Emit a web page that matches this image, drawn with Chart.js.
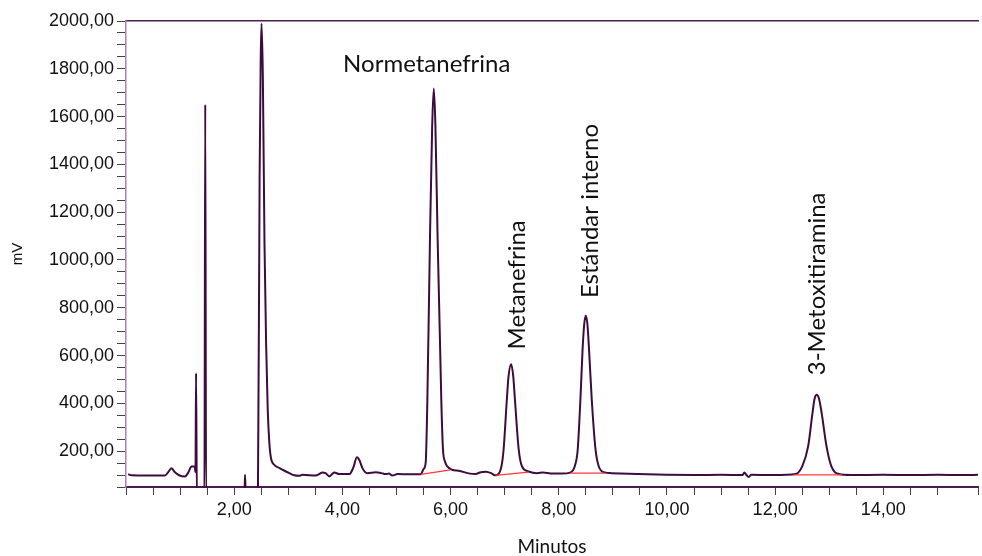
<!DOCTYPE html>
<html>
<head>
<meta charset="utf-8">
<script src="https://cdn.jsdelivr.net/npm/chart.js@4.4.1/dist/chart.umd.min.js"></script>
<style>
  html, body { margin: 0; padding: 0; background: #fff; }
  #wrap { width: 982px; height: 556px; }
</style>
</head>
<body>
<div id="wrap"><canvas id="chromChart"></canvas></div>
<script>
// chromatogram trace (minutes, mV)
const minutes = [
  0.04, 0.10, 0.40, 0.72, 0.78, 0.84, 0.90, 0.99, 1.09, 1.15, 1.21, 1.27,
  1.285, 1.295, 1.31, 1.45, 1.465, 1.48, 2.19, 2.20, 2.215, 2.43,
  2.44, 2.47, 2.49, 2.505, 2.53, 2.56, 2.59, 2.62, 2.65, 2.68, 2.74, 2.84, 2.93,
  3.02, 3.11, 3.20, 3.26, 3.51, 3.57, 3.63, 3.69, 3.76, 3.85, 3.94, 4.13,
  4.20, 4.27, 4.32, 4.37, 4.46, 4.62, 4.72, 4.80, 4.86, 4.92, 5.02, 5.23,
  5.45, 5.50, 5.54, 5.57, 5.62, 5.66, 5.69, 5.72, 5.76, 5.83, 5.86, 5.90, 5.94,
  6.03, 6.15, 6.36, 6.47, 6.54, 6.65, 6.75, 6.82, 6.86,
  6.94, 6.98, 7.04, 7.07, 7.12, 7.16, 7.19, 7.26, 7.32, 7.44,
  7.60, 7.71, 7.85, 8.06, 8.21,
  8.30, 8.35, 8.40, 8.44, 8.47, 8.50, 8.53, 8.56, 8.61, 8.68, 8.74, 8.85,
  8.97, 9.46, 10.0, 10.5, 11.0, 11.40, 11.43, 11.47, 11.51, 11.56, 11.9,
  12.20, 12.38, 12.50, 12.61, 12.69, 12.73, 12.77, 12.81, 12.86, 12.95, 13.04, 13.18,
  13.40, 14.0, 14.5, 15.0, 15.5, 15.75
];
const signal = [
  104, 99, 98, 98, 112, 128, 113, 98, 94, 110, 136, 136,
  112, 527, 20, 20, 1651, 20, 20, 101, 20, 20,
  60, 1348, 1836, 1990, 1766, 1070, 652, 373, 234, 171, 143, 129, 118,
  108, 99, 97, 101, 98, 104, 111, 108, 94, 111, 104, 104,
  130, 174, 160, 129, 108, 112, 108, 104, 106, 98, 104, 103,
  103, 125, 152, 402, 1098, 1560, 1718, 1560, 1097, 402, 206, 155, 136,
  122, 118, 106, 104, 111, 114, 108, 99, 100,
  136, 206, 415, 510, 564, 510, 415, 206, 136, 115,
  108, 111, 107, 106, 110,
  140, 206, 415, 624, 730, 767, 730, 624, 415, 206, 136, 111,
  108, 104, 101, 100, 101, 100, 111, 100, 92, 101, 100,
  101, 104, 136, 220, 359, 420, 436, 420, 359, 220, 136, 104,
  100, 101, 100, 101, 100, 101
];

// integration baselines under the named peaks: [start min, start mV, end min, end mV]
const baselines = [
  [5.45, 103, 6.00, 122],
  [6.83, 99, 7.44, 112],
  [8.21, 108, 8.85, 108],
  [12.34, 101, 13.24, 101]
];

const peakNames = ['Normetanefrina', 'Metanefrina', 'Estándar interno', '3-Metoxitiramina'];
const labelMinutes = [5.56, 7.24, 8.58, 12.78];
const labelMv = [1819, 896, 1205, 900];
const labelVertical = [false, true, true, true];

const traceColor = '#3c0c3e';
const fmt = v => v.toFixed(2).replace('.', ',');

const peakLabels = {
    id: 'peakLabels',
    afterDatasetsDraw(chart) {
        const { ctx, scales: { x, y } } = chart;
        ctx.save();
        ctx.fillStyle = '#111';
        ctx.font = '24px Lato, "DejaVu Sans", sans-serif';
        ctx.textAlign = 'center';
        ctx.textBaseline = 'middle';
        peakNames.forEach((name, i) => {
            ctx.save();
            ctx.translate(x.getPixelForValue(labelMinutes[i]), y.getPixelForValue(labelMv[i]));
            if (labelVertical[i]) ctx.rotate(-Math.PI / 2);
            ctx.fillText(name, 0, 0);
            ctx.restore();
        });
        ctx.restore();
    }
};

document.addEventListener("DOMContentLoaded", function() {
    const ctx = document.getElementById('chromChart').getContext('2d');

    const datasets = baselines.map(b => ({
        data: [{ x: b[0], y: b[1] }, { x: b[2], y: b[3] }],
        borderColor: '#ff3838',
        borderWidth: 1.3,
        pointRadius: 0,
        tension: 0
    }));
    datasets.push({
        data: minutes.map((m, i) => ({ x: m, y: signal[i] })),
        borderColor: traceColor,
        borderWidth: 2,
        pointRadius: 0,
        cubicInterpolationMode: 'monotone',
        clip: 1
    });

    new Chart(ctx, {
        type: 'line',
        data: { datasets: datasets },
        plugins: [peakLabels],
        options: {
            responsive: true,
            maintainAspectRatio: false,
            animation: false,
            layout: { padding: { top: 21, right: 0, left: 0, bottom: 0 } },
            plugins: { legend: { display: false }, tooltip: { enabled: false } },
            scales: {
                x: {
                    type: 'linear',
                    min: 0,
                    max: 15.75,
                    afterFit: s => { s.height = 69; },
                    border: { color: '#4b1d4f', width: 2 },
                    grid: { drawOnChartArea: false, tickLength: 8, color: '#444', lineWidth: 1 },
                    ticks: {
                        stepSize: 0.5,
                        autoSkip: false,
                        maxRotation: 0,
                        padding: 4,
                        color: '#111',
                        font: { family: '"Liberation Sans", Arial, sans-serif', size: 18 },
                        callback: v => (v > 0 && v % 2 === 0) ? fmt(v) : ''
                    },
                    title: {
                        display: true,
                        text: 'Minutos',
                        color: '#111',
                        padding: 0,
                        font: { family: 'Lato, "DejaVu Sans", sans-serif', size: 19, lineHeight: 1 }
                    }
                },
                top: {
                    type: 'linear',
                    position: 'top',
                    min: 0,
                    max: 15.75,
                    afterFit: s => { s.height = 0; },
                    border: { color: '#4b1d4f', width: 1.5 },
                    grid: { display: false },
                    ticks: { display: false }
                },
                y: {
                    min: 50,
                    max: 2000,
                    afterFit: s => { s.width = 126; },
                    border: { color: '#a982b0', width: 1.5 },
                    grid: { drawOnChartArea: false, tickLength: 9, color: '#444', lineWidth: 1 },
                    ticks: {
                        stepSize: 50,
                        autoSkip: false,
                        padding: 3,
                        color: '#111',
                        font: { family: '"Liberation Sans", Arial, sans-serif', size: 18 },
                        callback: v => (v % 200 === 0) ? fmt(v) : ''
                    },
                    title: {
                        display: true,
                        text: 'mV',
                        color: '#111',
                        padding: { top: 9, bottom: 0 },
                        font: { family: '"Liberation Sans", Arial, sans-serif', size: 15 }
                    }
                }
            }
        }
    });
});
</script>
</body>
</html>
